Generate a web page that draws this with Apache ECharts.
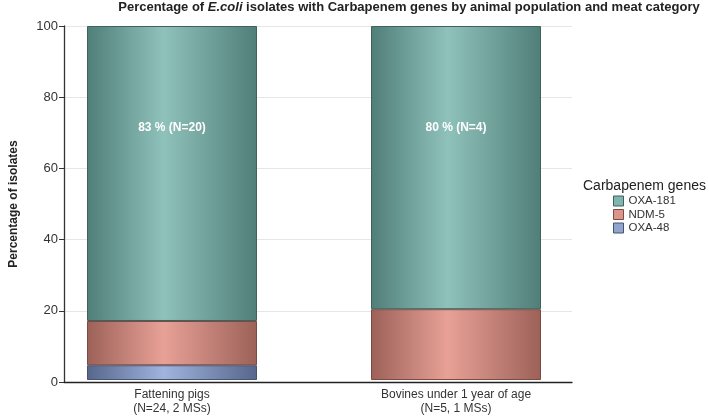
<!DOCTYPE html>
<html>
<head>
<meta charset="utf-8">
<script src="https://cdn.jsdelivr.net/npm/echarts@6/dist/echarts.min.js"></script>
<style>html,body{margin:0;padding:0;background:#fff}#c{width:709px;height:416px}</style>
</head>
<body>
<div id="c"></div>
<script>
const categories = ['Fattening pigs\n(N=24, 2 MSs)', 'Bovines under 1 year of age\n(N=5, 1 MSs)'];
const oxa48 = [4.17, null];
const ndm5 = [12.5, 20];
const oxa181 = [83.33, 80];
const oxa181Labels = ['83 % (N=20)', '80 % (N=4)'];

const FONT = 'Liberation Sans, Arial, sans-serif';
function grad(edge, mid) {
  return new echarts.graphic.LinearGradient(0, 0, 1, 0, [
    {offset: 0, color: edge}, {offset: 0.45, color: mid}, {offset: 1, color: edge}
  ]);
}
const pal = {
  'OXA-181': {edge: '#507e79', mid: '#8fc2bb', border: '#3f625e', flat: '#80b5ae'},
  'NDM-5': {edge: '#9c6158', mid: '#e8a197', border: '#7a4a44', flat: '#db958b'},
  'OXA-48': {edge: '#56668c', mid: '#a0b4de', border: '#46536f', flat: '#91a4cd'}
};
function mk(name, vals, label) {
  const p = pal[name];
  return {
    name, type: 'bar', stack: 'a', barWidth: 170, xAxisIndex: 0, yAxisIndex: 0,
    data: vals,
    itemStyle: {color: grad(p.edge, p.mid), borderColor: p.border, borderWidth: 1},
    label: label ? {
      show: true, position: 'insideTop', distance: 96, color: '#fff', fontWeight: 'bold',
      fontSize: 12, fontFamily: FONT,
      formatter: (pr) => label[pr.dataIndex]
    } : {show: false},
    emphasis: {disabled: true}, animation: false
  };
}
const chart = echarts.init(document.getElementById('c'));
chart.setOption({
  animation: false,
  textStyle: {fontFamily: FONT},
  title: [{
    text: 'Percentage of {i|E.coli} isolates with Carbapenem genes by animal population and meat category',
    left: 409, top: 1, textAlign: 'center', padding: 0,
    textStyle: {fontSize: 13, fontWeight: 'bold', color: '#222', fontFamily: FONT,
      rich: {i: {fontStyle: 'italic', fontWeight: 'bold', fontSize: 13, color: '#222', fontFamily: FONT}}}
  }, {
    text: 'Carbapenem genes', left: 583, top: 179, padding: 0,
    textStyle: {fontSize: 14, fontWeight: 'normal', color: '#222', fontFamily: FONT}
  }],
  legend: {
    orient: 'vertical', left: 613, top: 195, itemWidth: 10, itemHeight: 10, itemGap: 1.5,
    padding: 0, selectedMode: false,
    textStyle: {fontSize: 11.5, color: '#333', fontFamily: FONT},
    data: ['OXA-181', 'NDM-5', 'OXA-48'].map(n => ({
      name: n, icon: 'rect',
      itemStyle: {color: pal[n].flat, borderColor: pal[n].border, borderWidth: 1}
    }))
  },
  grid: [
    {left: 30, right: 111, top: 26, bottom: 34},
    {left: 56, right: 137, top: 26, bottom: 34}
  ],
  xAxis: [{
    type: 'category', gridIndex: 0, data: categories,
    axisLine: {show: false}, axisTick: {show: false}, splitLine: {show: false},
    axisLabel: {color: '#333', fontSize: 12, lineHeight: 14, margin: 8}
  }, {
    type: 'value', gridIndex: 1, min: 0, max: 1,
    axisLine: {show: true, lineStyle: {color: '#222', width: 1.3}},
    axisTick: {show: false}, axisLabel: {show: false}, splitLine: {show: false}
  }],
  yAxis: [{
    type: 'value', gridIndex: 0, min: 0, max: 100, show: false, splitLine: {show: false}
  }, {
    type: 'value', gridIndex: 1, min: 0, max: 100, interval: 20,
    name: 'Percentage of isolates', nameLocation: 'middle', nameGap: 44,
    nameTextStyle: {fontSize: 12, fontWeight: 'bold', color: '#222'},
    axisLine: {show: true, lineStyle: {color: '#333', width: 1.3}},
    axisTick: {show: true, length: 5, lineStyle: {color: '#333'}},
    axisLabel: {color: '#333', fontSize: 13, margin: 6},
    splitLine: {lineStyle: {color: '#e6e6e6'}}
  }],
  series: [mk('OXA-48', oxa48), mk('NDM-5', ndm5), mk('OXA-181', oxa181, oxa181Labels)]
});
</script>
</body>
</html>
